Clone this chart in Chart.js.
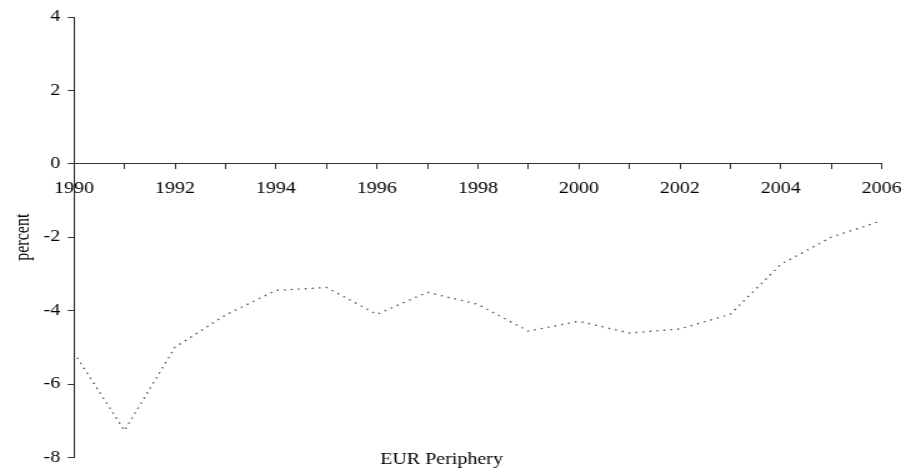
<!DOCTYPE html>
<html>
<head>
<meta charset="utf-8">
<script src="https://cdn.jsdelivr.net/npm/chart.js@4.4.1/dist/chart.umd.min.js"></script>
<style>
  html, body { margin: 0; padding: 0; background: #fff; overflow: hidden; }
  /* the original figure is stretched sideways, so draw narrow and widen with css */
  #chart { display: block; width: 916px; height: 473px; }
</style>
</head>
<body>
<canvas id="chart" width="733" height="473" style="width:916px;height:473px"></canvas>
<script>
// data
const years = [1990, 1991, 1992, 1993, 1994, 1995, 1996, 1997, 1998, 1999, 2000, 2001, 2002, 2003, 2004, 2005, 2006];
const periphery = [-5.15, -7.27, -5.0, -4.12, -3.45, -3.37, -4.1, -3.5, -3.83, -4.56, -4.29, -4.61, -4.5, -4.1, -2.74, -2.0, -1.55];
const seriesName = 'EUR Periphery';
const yTicks = [-8, -6, -4, -2, 0, 2, 4];

const serif = "'Liberation Serif', 'Times New Roman', serif";
const axisColor = '#333';

const points = years.map((yr, i) => ({ x: yr, y: periphery[i] }));

// legend is just the series name, drawn under the plot
const legendText = {
  id: 'legendText',
  afterDraw(chart) {
    const ctx = chart.ctx;
    const area = chart.chartArea;
    ctx.save();
    ctx.font = '16px ' + serif;
    ctx.fillStyle = '#000';
    ctx.textAlign = 'center';
    ctx.textBaseline = 'middle';
    ctx.fillText(seriesName, area.left + (area.right - area.left) * 0.455, area.bottom + 2);
    ctx.restore();
  }
};

new Chart(document.getElementById('chart'), {
  type: 'line',
  data: {
    datasets: [{
      label: seriesName,
      data: points,
      borderColor: '#444',
      borderWidth: 1.3,
      borderDash: [1.4, 4.2],
      pointRadius: 0,
      fill: false,
      tension: 0
    }]
  },
  options: {
    responsive: false,
    animation: false,
    layout: { padding: { top: 17, right: 27.4, bottom: 14, left: 0 } },
    plugins: {
      legend: { display: false },
      tooltip: { enabled: false }
    },
    scales: {
      x: {
        type: 'linear',
        position: { y: 0 },
        min: years[0],
        max: years[years.length - 1],
        grid: { drawOnChartArea: false, drawTicks: true, tickLength: 5, color: axisColor },
        border: { color: axisColor, width: 1 },
        ticks: {
          stepSize: 1,
          autoSkip: false,
          maxRotation: 0,
          padding: 10,
          color: '#000',
          font: { family: serif, size: 16 },
          callback: v => (v % 2 === 0 ? String(v) : '')
        }
      },
      y: {
        min: yTicks[0],
        max: yTicks[yTicks.length - 1],
        afterFit: s => { s.width = 59.2; },
        afterBuildTicks: s => { s.ticks = yTicks.map(v => ({ value: v })); },
        grid: { drawOnChartArea: false, drawTicks: true, tickLength: 5, color: axisColor },
        border: { color: axisColor, width: 1 },
        ticks: {
          padding: 6,
          color: '#000',
          font: { family: serif, size: 16 }
        },
        title: {
          display: true,
          text: 'percent',
          color: '#000',
          padding: { top: 9, bottom: 0 },
          font: { family: serif, size: 16 }
        }
      }
    }
  },
  plugins: [legendText]
});
</script>
</body>
</html>
